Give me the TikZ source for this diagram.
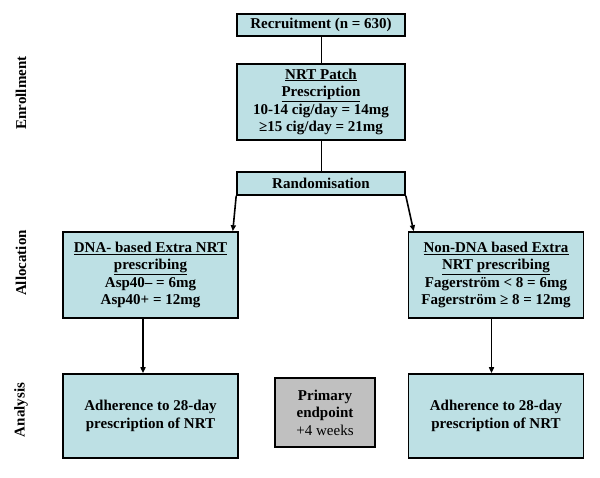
\documentclass[tikz,border=0pt]{standalone}
\usepackage{fontspec}
\setmainfont{Liberation Serif}
\usetikzlibrary{arrows.meta}

\definecolor{boxblue}{RGB}{189,224,228}
\definecolor{boxgray}{RGB}{192,192,192}

\tikzset{
	stage/.style={draw, line width=1.6pt, fill=boxblue, align=center, inner sep=0pt,
		font=\bfseries\fontsize{15}{17.6}\selectfont},
	phase/.style={rotate=90, font=\bfseries\fontsize{15}{17}\selectfont},
	link/.style={line width=1pt},
	flow/.style={line width=1.6pt, -{Triangle[length=6pt,width=5pt]}}
}

\begin{document}
\begin{tikzpicture}[x=1pt, y=-1pt]
	\useasboundingbox (0,0) rectangle (600,477);

	% enrollment
	\node[stage, minimum width=168pt, minimum height=22pt] (recruit) at (321,25) {Recruitment (n = 630)};
	\node[stage, minimum width=168pt, minimum height=76pt] (nrt) at (321,102)
		{\underline{NRT Patch}\\ \underline{Prescription}\\ 10-14 cig/day = 14mg\\ ≥15 cig/day = 21mg};
	\node[stage, minimum width=168pt, minimum height=23pt] (rand) at (321,183.5) {Randomisation};

	% allocation
	\node[stage, minimum width=175pt, minimum height=86pt] (dna) at (150.5,275)
		{\underline{DNA- based Extra NRT}\\ \underline{prescribing}\\ Asp40– = 6mg\\ Asp40+ = 12mg};
	\node[stage, minimum width=175pt, minimum height=86pt] (nondna) at (496,275)
		{\underline{Non-DNA based Extra}\\ \underline{NRT prescribing}\\ Fagerström < 8 = 6mg\\ Fagerström ≥ 8 = 12mg};

	% analysis
	\node[stage, minimum width=175pt, minimum height=84pt] (dnaout) at (150.5,416)
		{Adherence to 28-day\\ prescription of NRT};
	\node[stage, minimum width=175pt, minimum height=84pt] (nondnaout) at (496,416)
		{Adherence to 28-day\\ prescription of NRT};
	\node[stage, fill=boxgray, minimum width=100pt, minimum height=69pt] (primary) at (325,412.5)
		{Primary\\ endpoint\\ \mdseries +4 weeks};

	\draw[link] (recruit) -- (nrt);
	\draw[link] (nrt) -- (rand);
	\draw[flow] (rand.south west) -- ([xshift=-6pt]dna.north east);
	\draw[flow] (rand.south east) -- ([xshift=6pt]nondna.north west);
	\draw[flow] ([xshift=-7.5pt]dna.south) -- ([xshift=-7.5pt]dnaout.north);
	\draw[flow] ([xshift=-4.5pt]nondna.south) -- ([xshift=-4.5pt]nondnaout.north);

	% stage labels
	\node[phase] (enrol) at (21,93) {Enrollment};
	\node[phase] (alloc) at (21,263) {Allocation};
	\node[phase] (anal) at (21,410) {Analysis};
\end{tikzpicture}
\end{document}
